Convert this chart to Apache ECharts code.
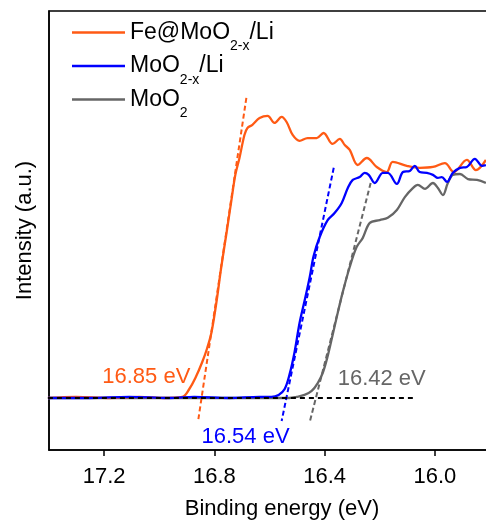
<!DOCTYPE html>
<html>
<head>
<meta charset="utf-8">
<script src="https://cdn.jsdelivr.net/npm/echarts@6/dist/echarts.min.js"></script>
<style>html,body{margin:0;padding:0;background:#fff}#c{width:486px;height:523px}</style>
</head>
<body>
<div id="c"></div>
<script>
// Binding energy (eV), intensity (a.u.) pairs
const feMoO2x = [
[17.404,0],[17.302,0.004],[17.182,0],[17.073,0.004],[16.982,0],[16.916,0.004],
[16.891,0.032],[16.869,0.071],[16.844,0.128],[16.826,0.178],[16.811,0.231],[16.793,0.338],
[16.775,0.466],[16.756,0.587],[16.738,0.705],[16.724,0.794],[16.709,0.854],[16.691,0.936],
[16.680,0.961],[16.662,0.972],[16.636,0.996],[16.607,1.004],[16.582,0.979],[16.556,1.000],
[16.538,0.982],[16.516,0.936],[16.491,0.915],[16.462,0.925],[16.429,0.925],[16.404,0.943],
[16.371,0.904],[16.345,0.922],[16.327,0.900],[16.309,0.883],[16.280,0.829],[16.247,0.854],
[16.211,0.822],[16.175,0.804],[16.153,0.840],[16.102,0.826],[16.055,0.819],[16.007,0.822],
[15.964,0.836],[15.931,0.804],[15.884,0.847],[15.851,0.811],[15.815,0.847]
];
const moO2x = [
[17.404,0],[17.254,0],[17.109,0.004],[16.964,0],[16.873,0.004],[16.745,0],[16.636,0.004],
[16.593,0.004],[16.567,0.011],[16.545,0.032],[16.527,0.085],[16.509,0.164],[16.491,0.267],
[16.473,0.345],[16.454,0.431],[16.440,0.505],[16.418,0.573],[16.389,0.633],[16.364,0.658],
[16.338,0.694],[16.316,0.747],[16.298,0.776],[16.273,0.786],[16.255,0.801],[16.240,0.794],
[16.218,0.765],[16.189,0.801],[16.171,0.801],[16.138,0.762],[16.116,0.804],[16.091,0.808],
[16.073,0.826],[16.055,0.804],[16.029,0.801],[16.007,0.794],[15.989,0.783],[15.975,0.786],
[15.956,0.769],[15.935,0.801],[15.909,0.819],[15.884,0.822],[15.855,0.851],[15.829,0.826],
[15.815,0.829]
];
const moO2 = [
[17.404,0],[17.200,0],[17.000,0],[16.800,0],[16.600,0],[16.527,0],[16.502,0.004],
[16.473,0.011],[16.447,0.025],[16.425,0.053],[16.407,0.089],[16.389,0.149],[16.371,0.224],
[16.356,0.288],[16.335,0.374],[16.309,0.466],[16.284,0.537],[16.262,0.569],[16.236,0.623],
[16.200,0.633],[16.171,0.641],[16.138,0.669],[16.109,0.715],[16.080,0.747],[16.062,0.758],
[16.036,0.744],[16.007,0.765],[15.989,0.747],[15.971,0.722],[15.953,0.765],[15.935,0.794],
[15.909,0.797],[15.880,0.779],[15.847,0.776],[15.815,0.765]
];
// tangent (onset) lines and baseline
const tangentFe = [[16.684,1.068],[16.858,-0.075]];
const tangentMoO2x = [[16.367,0.819],[16.556,-0.082]];
const tangentMoO2 = [[16.233,0.765],[16.455,-0.089]];
const baseline = [[17.404,0],[16.080,0]];
// onset labels
const onsetLabels = [
  {text:'16.85 eV', pos:[17.047,0.075], color:'#ff5a14'},
  {text:'16.54 eV', pos:[16.687,-0.140], color:'#0000ff'},
  {text:'16.42 eV', pos:[16.193,0.068], color:'#666666'}
];
const xTicks = [17.2, 16.8, 16.4, 16.0];
const seriesNames = ['Fe@MoO2-x/Li','MoO2-x/Li','MoO2'];
const legendRich = {
  'Fe@MoO2-x/Li':'{n|Fe@MoO}{s|2-x}{n|/Li}',
  'MoO2-x/Li':'{n|MoO}{s|2-x}{n|/Li}',
  'MoO2':'{n|MoO}{s|2}'
};

const FONT = "'Liberation Sans', Arial, sans-serif";
const C_OR = '#ff5a14', C_BL = '#0000ff', C_GR = '#666666';

const chart = echarts.init(document.getElementById('c'), null, {renderer:'canvas'});
function curve(name, data, color, z){
  return {name, type:'line', data, smooth:0.35, symbol:'none', z,
    lineStyle:{color, width:2.3}, itemStyle:{color}};
}
function dashed(data, color, z, dash){
  return {type:'line', data, symbol:'none', z, silent:true,
    lineStyle:{color, width:2, type:dash}};
}
chart.setOption({
  animation:false,
  backgroundColor:'#fff',
  textStyle:{fontFamily:FONT},
  grid:{left:49, top:11, right:-3, bottom:73, show:true, borderColor:'#000', borderWidth:1.5,
    containLabel:false, outerBoundsMode:'none'},
  legend:{
    data:seriesNames, left:67, top:16, orient:'vertical', itemGap:1,
    itemWidth:53, itemHeight:2.6, icon:'rect',
    formatter:n=>legendRich[n],
    textStyle:{fontFamily:FONT, color:'#000',
      rich:{n:{fontSize:23, lineHeight:42, fontFamily:FONT, color:'#000'},
            s:{fontSize:14, lineHeight:14, verticalAlign:'bottom', fontFamily:FONT, color:'#000'}}}
  },
  xAxis:{type:'value', inverse:true, min:15.8037, max:17.4,
    name:'Binding energy (eV)', nameLocation:'middle', nameGap:48,
    nameTextStyle:{fontSize:22, color:'#000', fontFamily:FONT, padding:[0,0,0,26]},
    axisLine:{onZero:false, lineStyle:{color:'#000', width:1.5}},
    axisTick:{show:true, length:6, inside:false, customValues:xTicks, lineStyle:{color:'#000', width:1.5}},
    axisLabel:{customValues:xTicks, fontSize:22, color:'#000', margin:16, fontFamily:FONT,
      formatter:v=>v.toFixed(1)},
    splitLine:{show:false}},
  yAxis:{type:'value', min:-0.185, max:1.377,
    name:'Intensity (a.u.)', nameLocation:'middle', nameGap:13,
    nameTextStyle:{fontSize:22, color:'#000', fontFamily:FONT},
    axisLine:{show:true, onZero:false, lineStyle:{color:'#000', width:1.5}},
    axisTick:{show:false}, axisLabel:{show:false}, splitLine:{show:false}},
  series:[
    curve('MoO2', moO2, C_GR, 2),
    curve('Fe@MoO2-x/Li', feMoO2x, C_OR, 3),
    curve('MoO2-x/Li', moO2x, C_BL, 4),
    dashed(tangentFe, C_OR, 5, [5,3]),
    dashed(tangentMoO2x, C_BL, 5, [5,3]),
    dashed(tangentMoO2, C_GR, 5, [5,3]),
    dashed(baseline, '#000', 6, [5,4]),
    {type:'scatter', symbolSize:0, silent:true, z:7, itemStyle:{opacity:1},
      data:onsetLabels.map(o=>({value:o.pos, label:{formatter:o.text, color:o.color}})),
      label:{show:true, position:'inside', fontSize:22, fontFamily:FONT, opacity:1}}
  ]
});
</script>
</body>
</html>
